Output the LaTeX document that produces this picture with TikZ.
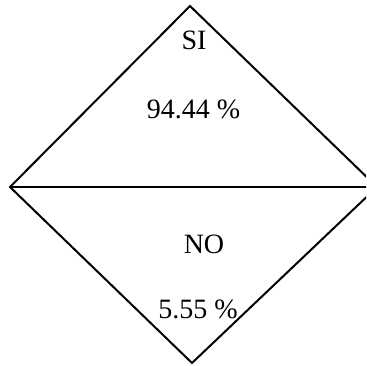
\documentclass[tikz,border=0pt]{standalone}
\usepackage{fontspec}
\setmainfont{Liberation Serif}
\begin{document}
\begin{tikzpicture}[x=1pt,y=-1pt,
  edge/.style={line width=2pt,line join=miter},
  lbl/.style={inner sep=0pt,anchor=center,font=\fontsize{28}{30}\selectfont}]
\useasboundingbox (0,0) rectangle (366,366);
\clip (0,0) rectangle (366,366);
\coordinate (T) at (190,6);
\coordinate (L) at (10,187);
\coordinate (B) at (192,363);
\coordinate (R) at (377,187);
\draw[edge] (T) -- (L) -- (B) -- (R) -- cycle;
\draw[edge] (L) -- (R);
\node[lbl] (si) at (194,40) {SI};
\node[lbl] (p1) at (193.5,109) {94.44 \%};
\node[lbl] (no) at (204,244) {NO};
\node[lbl] (p2) at (198,309) {5.55 \%};
\end{tikzpicture}
\end{document}
